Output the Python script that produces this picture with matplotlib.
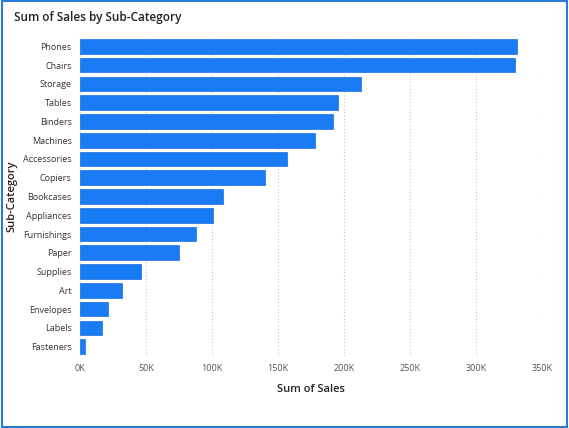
import matplotlib
matplotlib.use("Agg")
import matplotlib.pyplot as plt
from matplotlib.patches import Rectangle

categories = ["Phones","Chairs","Storage","Tables","Binders","Machines","Accessories","Copiers",
              "Bookcases","Appliances","Furnishings","Paper","Supplies","Art","Envelopes","Labels","Fasteners"]
sales = [331000,329600,213000,195500,192000,178000,157000,140000,108000,101000,88000,75000,46000,31500,21000,16500,4000]
ticks = [0,50000,100000,150000,200000,250000,300000,350000]
tick_labels = ["0K","50K","100K","150K","200K","250K","300K","350K"]

plt.rcParams['font.family'] = ['Open Sans', 'DejaVu Sans']
fig = plt.figure(figsize=(5.69,4.28), dpi=100)
ax = fig.add_axes([80/569, 1-356/428, (542-80)/569, (356-37)/428])
y = list(range(len(categories)))
ax.barh(y, sales, height=0.78, color="#1a7cf5", edgecolor="#1a6fe0", linewidth=0.5)
ax.set_ylim(len(categories)-0.5, -0.5)
ax.set_yticks(y)
ax.set_yticklabels(categories, fontsize=6.5, color="#333333")
ax.set_xlim(0, 350000)
ax.set_xticks(ticks)
ax.set_xticklabels(tick_labels, fontsize=6.5, color="#555555")
ax.tick_params(length=0, pad=6)
ax.xaxis.grid(True, linestyle=(0,(1,2)), color="#c8c8c8", linewidth=0.8)
ax.set_axisbelow(True)
for s in ax.spines.values():
    s.set_visible(False)
ax.set_xlabel("Sum of Sales", fontsize=8, color="#222222", labelpad=8, fontweight="semibold")
ax.set_ylabel("Sub-Category", fontsize=8, color="#222222", labelpad=4, fontweight="semibold")
fig.text(14/569, 1-17/428, "Sum of Sales by Sub-Category", fontsize=8.5, color="#222222",
         va="center", fontweight="semibold")
fig.patches.append(Rectangle((0.003,0.003),0.994,0.994, transform=fig.transFigure,
                             fill=False, edgecolor="#2a7bd8", linewidth=1.5))
fig.savefig("out.png", dpi=100)
